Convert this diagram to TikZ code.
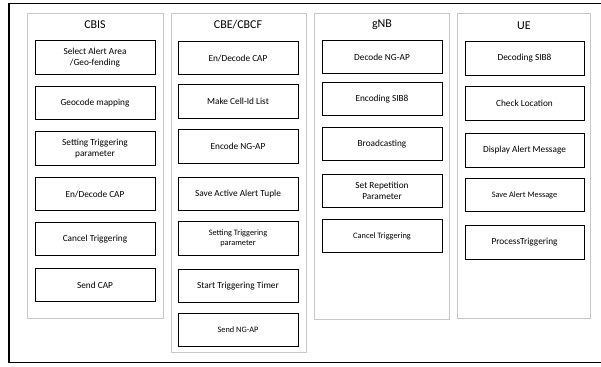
\documentclass[tikz,border=0pt]{standalone}
\usepackage{fontspec}
\setmainfont{Carlito}
\begin{document}
\begin{tikzpicture}[x=1pt,y=-1pt,
  lane/.style={draw=black!22,line width=0.9pt},
  task/.style={draw=black,line width=0.8pt,minimum width=120pt,minimum height=33.5pt,
    inner sep=1pt,align=center,font=\fontsize{9.3}{10.5}\selectfont},
  small/.style={font=\fontsize{8.3}{9.5}\selectfont},
  title/.style={font=\fontsize{12}{14}\selectfont,inner sep=0pt}]
\useasboundingbox (0,0) rectangle (601,366);
% outer frame, open to the right
\draw[line width=1.1pt] (603,3.5) -- (9,3.5) -- (9,362.5) -- (603,362.5);

% lanes
\draw[lane] (27,13) rectangle (163,318);
\draw[lane] (171,13) rectangle (306,352);
\draw[lane] (314,13) rectangle (449,319);
\draw[lane] (457,13) rectangle (590,318);

% lane titles
\node[title] (tcbis) at (95,24.5) {CBIS};
\node[title] (tcbe) at (238,24.5) {CBE/CBCF};
\node[title] (tgnb) at (382,25) {gNB};
\node[title] (tue) at (524,25.5) {UE};

% CBIS
\node[task] (a1) at (95,57.5) {Select Alert Area\\/Geo-fending};
\node[task] (a2) at (95,103) {Geocode mapping};
\node[task] (a3) at (95,148.5) {Setting Triggering\\parameter};
\node[task] (a4) at (95,194) {En/Decode CAP};
\node[task] (a5) at (95,239) {Cancel Triggering};
\node[task] (a6) at (95,285) {Send CAP};

% CBE/CBCF
\node[task] (b1) at (238,58) {En/Decode CAP};
\node[task] (b2) at (238,101.5) {Make Cell-Id List};
\node[task] (b3) at (238,146.5) {Encode NG-AP};
\node[task] (b4) at (238,194) {Save Active Alert Tuple};
\node[task,small] (b5) at (238,238.5) {Setting Triggering\\parameter};
\node[task] (b6) at (238,286) {Start Triggering Timer};
\node[task,small] (b7) at (238,330) {Send NG-AP};

% gNB
\node[task] (c1) at (382,57) {Decode NG-AP};
\node[task] (c2) at (382,99) {Encoding SIB8};
\node[task] (c3) at (382,144) {Broadcasting};
\node[task] (c4) at (382,191) {Set Repetition\\Parameter};
\node[task,small] (c5) at (382,236) {Cancel Triggering};

% UE
\node[task,minimum width=119pt] (d1) at (524.5,58.5) {Decoding SIB8};
\node[task,minimum width=119pt] (d2) at (524.5,103.5) {Check Location};
\node[task,minimum width=119pt] (d3) at (524.5,150.5) {Display Alert Message};
\node[task,minimum width=119pt,small] (d4) at (524.5,195) {Save Alert Message};
\node[task,minimum width=119pt] (d5) at (524.5,242.5) {ProcessTriggering};
\end{tikzpicture}
\end{document}
